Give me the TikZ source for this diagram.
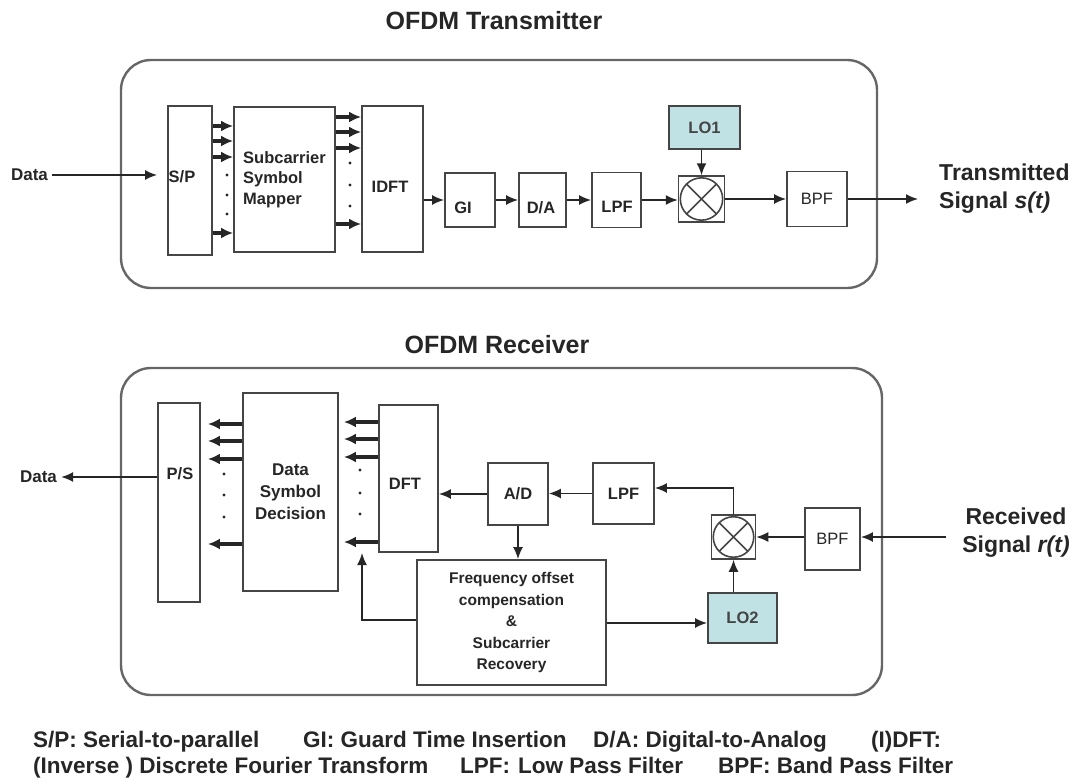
\documentclass[tikz,border=0pt]{standalone}
\usepackage{fontspec}
\setmainfont{Liberation Sans}
\usetikzlibrary{arrows.meta,calc}
\definecolor{ink}{HTML}{262626}
\definecolor{edge}{HTML}{454545}
\definecolor{frame}{HTML}{666666}
\definecolor{lofill}{HTML}{C0E2E5}
\begin{document}
\begin{tikzpicture}[x=1pt,y=-1pt,
  every node/.style={text=ink},
  blk/.style={draw=edge, line width=1.8pt, fill=white, inner sep=0pt, align=center,
    font=\bfseries\fontsize{16.5}{20.5}\selectfont},
  lbl/.style={inner sep=0pt, align=center, font=\bfseries\fontsize{16.5}{20.5}\selectfont},
  lobox/.style={blk, fill=lofill, text=edge},
  mixer/.style={draw=edge, line width=1.5pt, fill=white, inner sep=0pt, minimum size=#1,
    path picture={
      \draw[edge, line width=1.6pt] (path picture bounding box.center) circle[radius=0.46*#1];
      \draw[edge, line width=1.6pt] (path picture bounding box.center) +(45:0.46*#1) -- +(225:0.46*#1)
        (path picture bounding box.center) +(135:0.46*#1) -- +(-45:0.46*#1);}},
  outerbox/.style={draw=frame, line width=2.4pt, rounded corners=30pt, inner sep=0pt},
  ttl/.style={inner sep=0pt, font=\bfseries\fontsize{25}{30}\selectfont},
  sig/.style={inner sep=0pt, font=\bfseries\fontsize{23}{28}\selectfont},
  leg/.style={inner sep=0pt, anchor=base west, font=\bfseries\fontsize{22.5}{27}\selectfont},
  arr/.style={draw=ink, line width=1.7pt, -{Latex[length=12pt,width=10pt]}},
  tarr/.style={draw=ink, line width=3.2pt, -{Latex[length=12pt,width=11pt]}},
  dotm/.style={circle, fill=ink, inner sep=0pt, minimum size=3.4pt}
]
\useasboundingbox (0,0) rectangle (1084,784);

% titles and frames
\node[ttl] (ttx) at (494,21) {OFDM Transmitter};
\node[ttl] (trx) at (497,345) {OFDM Receiver};
\node[outerbox, minimum width=756pt, minimum height=228pt] (txbox) at (499,174) {};
\node[outerbox, minimum width=761pt, minimum height=327pt] (rxbox) at (501.5,531.5) {};

% ---------------- transmitter ----------------
\node[blk, minimum width=44pt, minimum height=149pt] (sp) at (190,180.5) {};
\node[lbl] (splbl) at (182,177) {S/P};
\node[blk, minimum width=101pt, minimum height=145pt, align=left] (sub) at (284.5,179.5) {Subcarrier\\Symbol\\Mapper};
\node[blk, minimum width=61pt, minimum height=146pt] (idft) at (392.5,179) {};
\node[lbl] (idftlbl) at (390,187) {IDFT};
\node[blk, minimum width=50pt, minimum height=54pt] (gi) at (470,200) {};
\node[lbl] (gilbl) at (463,208) {GI};
\node[blk, minimum width=47pt, minimum height=54pt] (da) at (542.5,200) {};
\node[lbl] (dalbl) at (541,208) {D/A};
\node[blk, minimum width=49pt, minimum height=55pt] (lpfa) at (616.5,200) {};
\node[lbl] (lpfalbl) at (617,207) {LPF};
\node[mixer=46pt] (mixa) at (701.5,199) {};
\node[lobox, minimum width=71pt, minimum height=43pt] (loa) at (704.5,127.5) {LO1};
\node[blk, minimum width=60pt, minimum height=55pt, font=\fontsize{16.5}{20}\selectfont] (bpfa) at (817,199) {BPF};

\node[lbl, font=\bfseries\fontsize{17}{20}\selectfont] (dtx) at (29.5,175) {Data};
\draw[arr, shorten <=4pt, shorten >=10pt] (dtx.east) -- (sp.west |- dtx.east);
\foreach \yy in {126,141,157,233}
  \draw[tarr] (sp.east |- 0,\yy) -- (sub.west |- 0,\yy);
\foreach \yy in {117,132,148,224}
  \draw[tarr] (sub.east |- 0,\yy) -- (idft.west |- 0,\yy);
\foreach \yy [count=\i] in {175,195,214} \node[dotm] (dsa\i) at (227,\yy) {};
\foreach \yy [count=\i] in {163,185,206} \node[dotm] (dsb\i) at (350,\yy) {};

\draw[arr] (idft.east |- gi.west) -- (gi.west);
\draw[arr] (gi.east) -- (da.west);
\draw[arr] (da.east) -- (lpfa.west);
\draw[arr] (lpfa.east) -- (lpfa.east -| mixa.west);
\draw[arr] (loa.south -| mixa.north) -- (mixa.north);
\draw[arr] (mixa.east) -- (mixa.east -| bpfa.west);
\coordinate (txout) at (918,199);
\draw[arr] (bpfa.east) -- (txout);
\node[sig, anchor=west, align=left] (txsig) at (939,189) {Transmitted\\Signal \textit{s(t)}};

% ---------------- receiver ----------------
\node[blk, minimum width=42pt, minimum height=199pt] (ps) at (179,502.5) {};
\node[lbl] (pslbl) at (180,474) {P/S};
\node[blk, minimum width=95pt, minimum height=198pt, font=\bfseries\fontsize{17}{22}\selectfont] (dsd) at (290.5,492) {Data\\Symbol\\Decision};
\node[blk, minimum width=59pt, minimum height=147pt] (dft) at (408.5,478.5) {};
\node[lbl] (dftlbl) at (405,484) {DFT};
\node[blk, minimum width=60pt, minimum height=62pt] (ad) at (518,494) {A/D};
\node[blk, minimum width=189pt, minimum height=125pt, font=\bfseries\fontsize{15.5}{21.5}\selectfont] (freq) at (511.5,622.5)
  {Frequency offset\\compensation\\\&\\Subcarrier\\Recovery};
\node[blk, minimum width=61pt, minimum height=61pt] (lpfb) at (623.5,493.5) {LPF};
\node[mixer=44pt] (mixb) at (733.5,537) {};
\node[blk, minimum width=55pt, minimum height=62pt, font=\fontsize{16.5}{20}\selectfont] (bpfb) at (832.5,539) {BPF};
\node[lobox, minimum width=69pt, minimum height=50pt] (lob) at (742.5,618) {LO2};

\draw[arr] (ad.west) -- (ad.west -| dft.east);
\draw[arr] (lpfb.west) -- (lpfb.west -| ad.east);
\draw[arr] (mixb.north) |- ([yshift=5.5pt]lpfb.east);
\draw[arr] (bpfb.west |- mixb.east) -- (mixb.east);
\coordinate (rxin) at (946,537);
\draw[arr] (rxin) -- (rxin -| bpfb.east);
\draw[arr] (mixb.south |- lob.north) -- (mixb.south);
\draw[arr] (freq.east |- 0,623) -- (lob.west |- 0,623);
\draw[arr] (ad.south) -- (ad.south |- freq.north);
\coordinate (fbtip) at (362,553);
\draw[arr] (freq.west |- 0,620) -| (fbtip);
\foreach \yy in {422,439,457,542}
  \draw[tarr, shorten >=5pt] (dft.west |- 0,\yy) -- (dsd.east |- 0,\yy);
\foreach \yy in {424,441,459,544}
  \draw[tarr, shorten >=7pt] (dsd.west |- 0,\yy) -- (ps.east |- 0,\yy);
\foreach \yy [count=\i] in {474,495,517} \node[dotm] (dsc\i) at (224,\yy) {};
\foreach \yy [count=\i] in {470,493,514} \node[dotm] (dsd\i) at (360,\yy) {};

\node[lbl, font=\bfseries\fontsize{17}{20}\selectfont] (drx) at (38.5,477) {Data};
\draw[arr, shorten >=4pt] (ps.west |- drx.east) -- (drx.east);
\node[sig, align=center] (rxsig) at (1016,533) {Received\\Signal \textit{r(t)}};

% ---------------- legend ----------------
\node[leg] (lg1) at (33,747) {S/P: Serial-to-parallel};
\node[leg] (lg2) at (303,747) {GI: Guard Time Insertion};
\node[leg] (lg3) at (593,747) {D/A: Digital-to-Analog};
\node[leg] (lg4) at (871,747) {(I)DFT:};
\node[leg] (lg5) at (33,773) {(Inverse ) Discrete Fourier Transform};
\node[leg] (lg6) at (460,773) {LPF:\hspace{8pt}Low Pass Filter};
\node[leg] (lg7) at (718,773) {BPF: Band Pass Filter};
\end{tikzpicture}
\end{document}
